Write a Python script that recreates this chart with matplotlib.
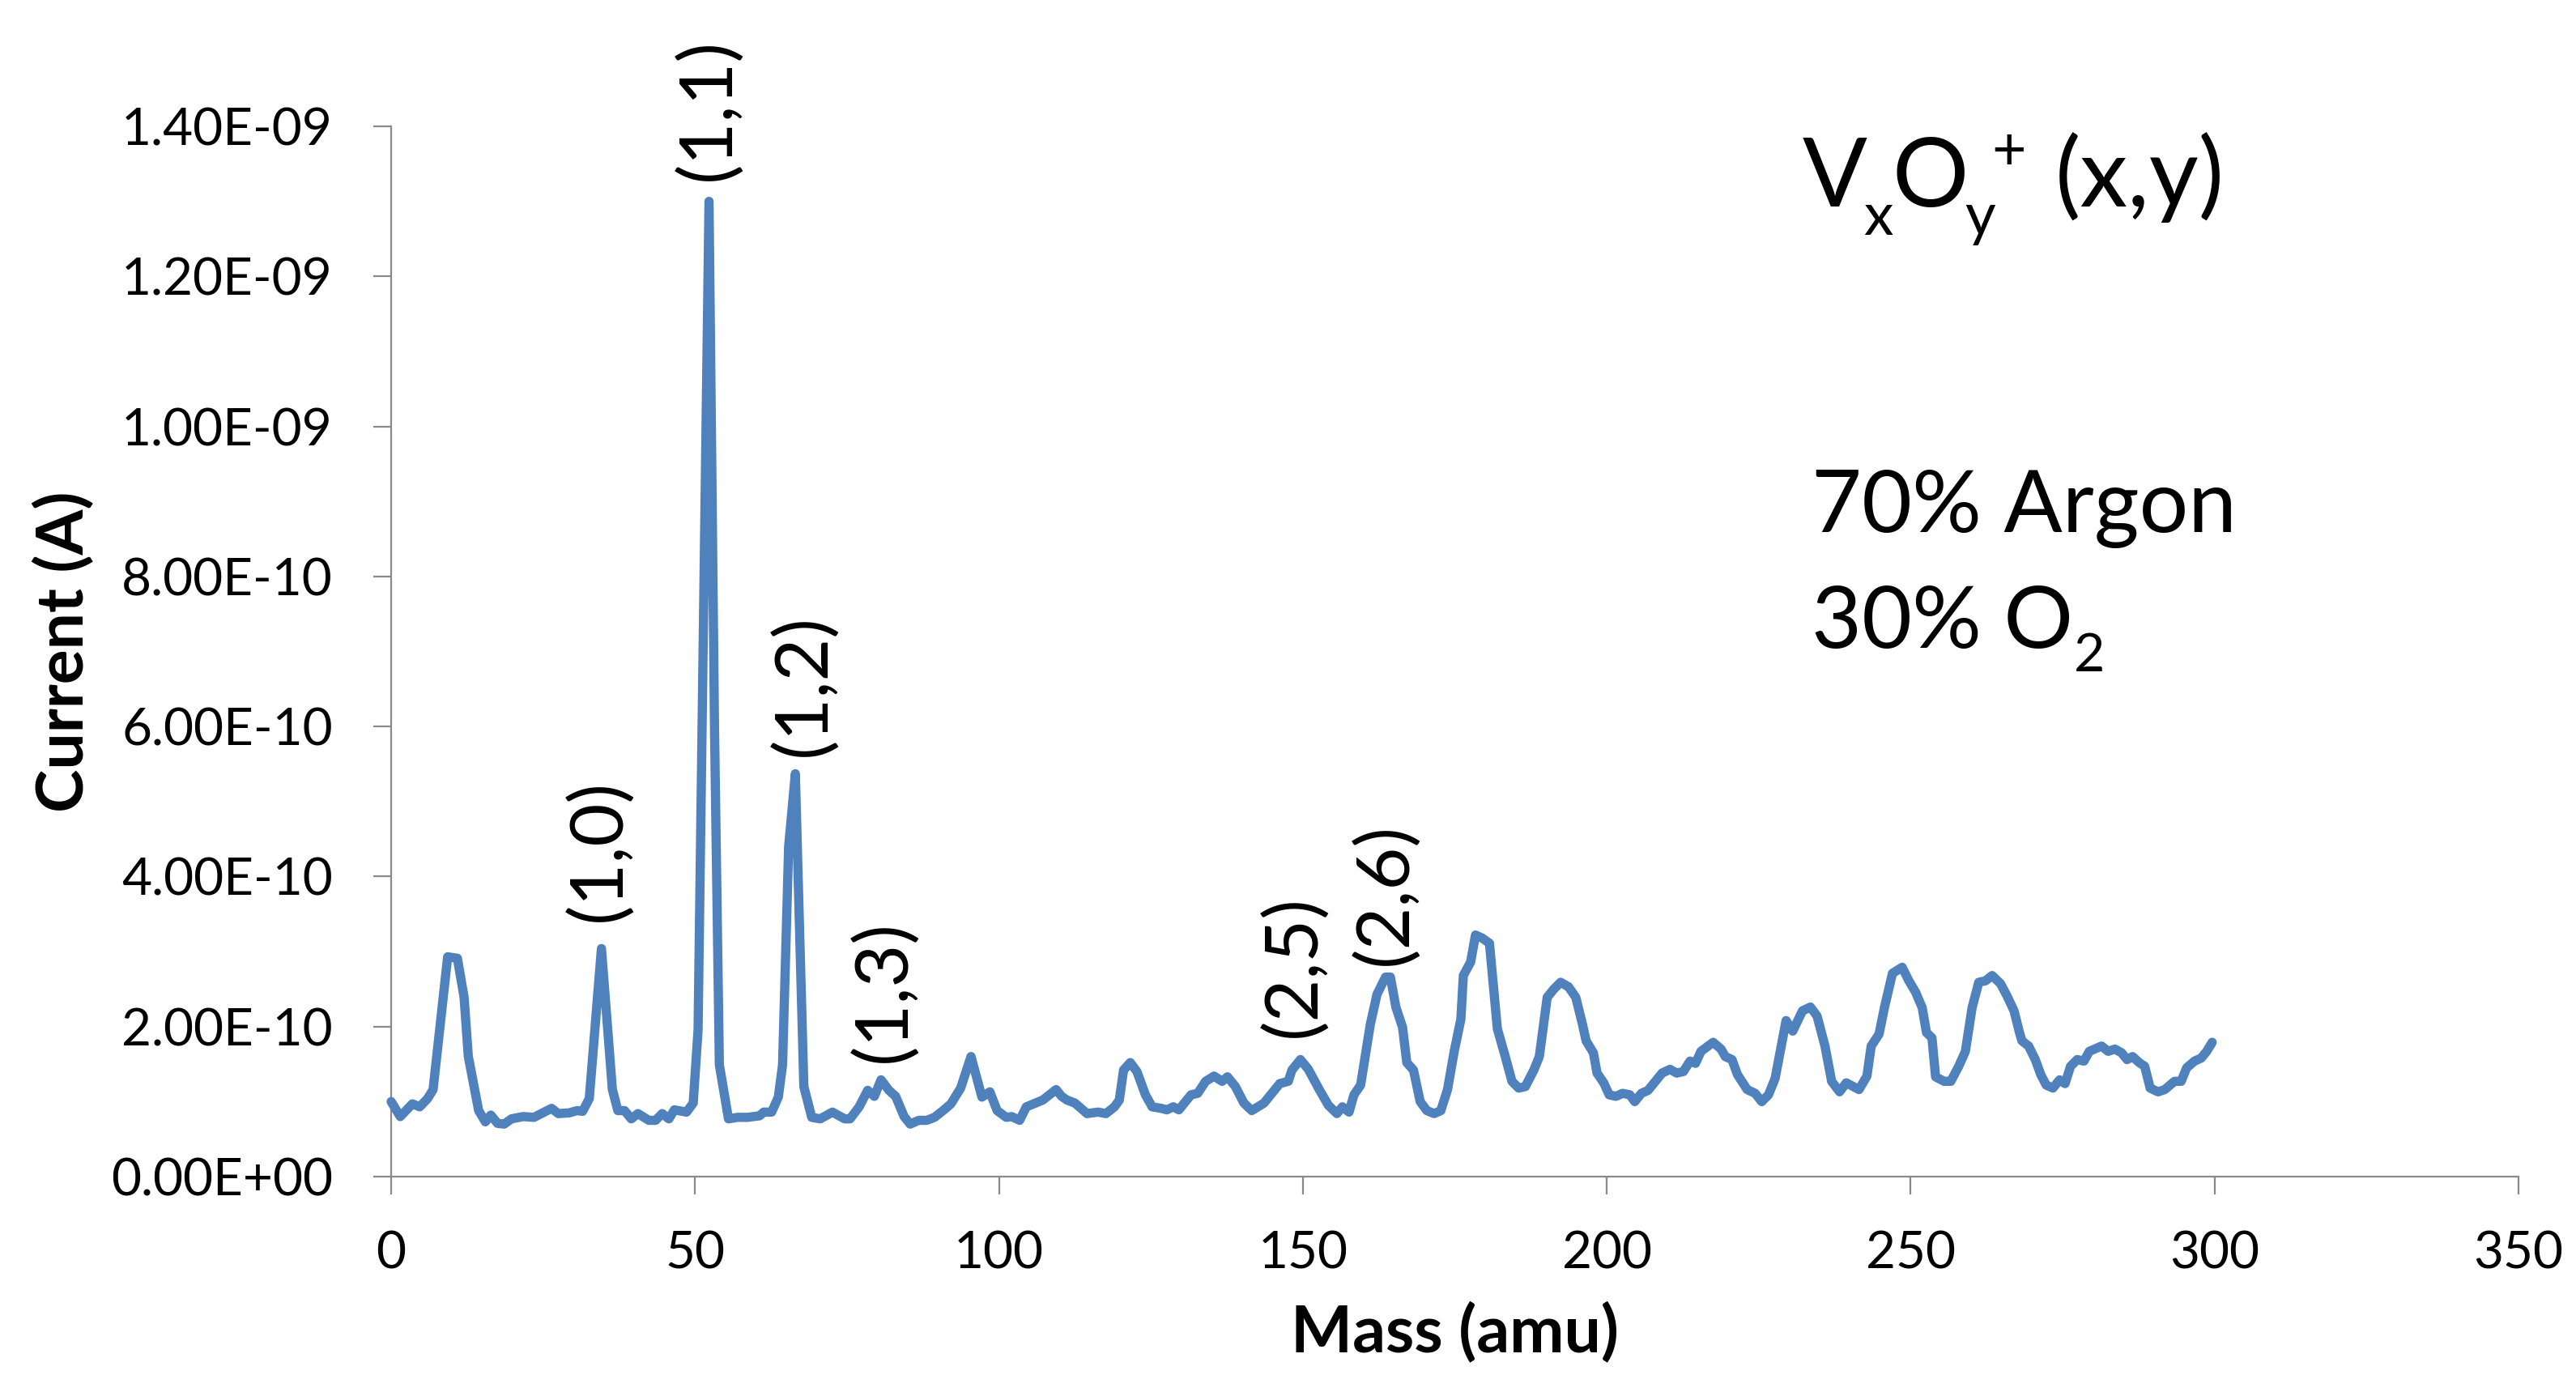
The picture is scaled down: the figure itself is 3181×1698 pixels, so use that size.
import matplotlib
matplotlib.use("Agg")
import matplotlib.pyplot as plt
import numpy as np

# ---------------- data ----------------
mass_amu = [
    0.0, 1.5, 3.5, 4.7, 6.0, 6.9, 9.3, 10.9, 12.0, 12.7, 14.4, 15.5, 16.4, 17.5, 18.6, 19.8,
    21.7, 23.5, 26.4, 27.5, 29.3, 30.6, 31.5, 32.6, 34.6, 36.4, 37.3, 38.4, 39.5, 40.6, 42.4,
    43.5, 44.6, 45.7, 46.6, 48.6, 49.7, 50.5, 52.3, 53.2, 54.0, 55.5, 57.0, 58.6, 60.6, 61.3,
    62.6, 63.7, 64.4, 65.4, 66.5, 67.9, 69.2, 70.6, 72.6, 74.6, 75.5, 77.0, 78.4, 79.5, 80.6,
    81.9, 83.0, 84.4, 85.4, 86.8, 88.1, 89.4, 90.8, 92.1, 93.7, 95.4, 97.2, 98.5, 99.7, 101.2,
    102.1, 103.4, 104.5, 106.0, 107.2, 109.4, 110.3, 111.2, 112.5, 114.5, 116.3, 117.6, 119.0,
    119.8, 120.5, 121.6, 122.7, 124.1, 125.2, 126.7, 127.6, 128.7, 129.6, 131.6, 132.7, 134.0,
    135.4, 136.7, 137.6, 138.9, 140.3, 141.6, 143.6, 144.9, 146.2, 147.6, 148.2, 149.6, 150.9,
    152.7, 154.2, 155.6, 156.5, 157.6, 158.4, 159.5, 161.1, 162.2, 163.6, 164.4, 165.3, 166.4,
    167.1, 168.2, 169.3, 170.4, 171.6, 172.7, 173.8, 174.9, 176.0, 176.4, 177.6, 178.4, 179.5,
    180.7, 182.0, 183.3, 184.4, 185.5, 186.6, 188.0, 188.9, 190.2, 191.3, 192.4, 193.7, 194.9,
    196.0, 196.6, 197.8, 198.4, 199.5, 200.4, 201.5, 202.6, 203.8, 204.6, 205.7, 206.8, 208.0,
    209.1, 210.4, 211.5, 212.6, 213.7, 214.6, 215.5, 217.5, 218.8, 219.5, 220.6, 221.5, 223.1,
    224.4, 225.5, 226.6, 227.7, 229.5, 230.6, 232.2, 233.5, 234.6, 235.9, 237.0, 238.3, 239.4,
    241.5, 242.8, 243.5, 244.8, 245.7, 247.0, 248.6, 249.7, 250.8, 251.9, 252.6, 253.5, 254.1,
    255.5, 256.6, 257.9, 259.0, 260.1, 261.2, 262.3, 263.4, 264.8, 265.9, 267.0, 267.9, 268.3,
    269.4, 270.5, 271.4, 272.3, 273.4, 274.5, 275.4, 276.3, 277.4, 278.5, 279.4, 281.4, 282.5,
    283.6, 284.7, 285.6, 286.5, 287.6, 288.5, 289.4, 290.7, 291.8, 293.4, 294.5, 295.4, 296.7,
    297.8, 298.7, 299.6,
]

# current in units of 1e-10 A
current_e10 = [
    1.00, 0.80, 0.97, 0.93, 1.04, 1.16, 2.93, 2.91, 2.39, 1.60, 0.88, 0.73, 0.82, 0.71, 0.70, 0.77,
    0.80, 0.79, 0.91, 0.84, 0.85, 0.88, 0.87, 1.04, 3.04, 1.16, 0.88, 0.88, 0.77, 0.84, 0.75,
    0.75, 0.84, 0.77, 0.89, 0.86, 0.98, 1.96, 13.0, 6.0, 1.49, 0.77, 0.79, 0.79, 0.81, 0.86,
    0.86, 1.06, 1.49, 4.4, 5.37, 1.20, 0.79, 0.77, 0.86, 0.77, 0.77, 0.93, 1.15, 1.07, 1.29,
    1.15, 1.07, 0.80, 0.70, 0.75, 0.75, 0.79, 0.88, 0.97, 1.18, 1.60, 1.06, 1.13, 0.88, 0.79,
    0.80, 0.75, 0.93, 0.98, 1.02, 1.16, 1.07, 1.02, 0.98, 0.84, 0.86, 0.84, 0.93,
    1.02, 1.42, 1.52, 1.40, 1.09, 0.93, 0.91, 0.89, 0.93, 0.89, 1.09, 1.11, 1.27,
    1.34, 1.27, 1.33, 1.20, 0.98, 0.88, 0.98, 1.11, 1.24, 1.27, 1.42, 1.56, 1.43,
    1.16, 0.95, 0.84, 0.93, 0.86, 1.09, 1.22, 2.03, 2.43, 2.66, 2.66, 2.26, 1.99,
    1.52, 1.42, 1.00, 0.88, 0.84, 0.88, 1.16, 1.67, 2.10, 2.68, 2.86, 3.22, 3.18,
    3.11, 1.97, 1.60, 1.27, 1.18, 1.20, 1.42, 1.60, 2.39, 2.50, 2.59, 2.53, 2.39,
    2.03, 1.81, 1.65, 1.38, 1.25, 1.09, 1.07, 1.11, 1.09, 1.00, 1.11, 1.15, 1.27,
    1.38, 1.43, 1.38, 1.40, 1.54, 1.51, 1.67, 1.79, 1.70, 1.60, 1.56, 1.36, 1.16,
    1.11, 1.00, 1.09, 1.31, 2.08, 1.94, 2.21, 2.26, 2.14, 1.74, 1.27, 1.13, 1.25,
    1.16, 1.34, 1.74, 1.90, 2.26, 2.71, 2.79, 2.61, 2.46, 2.25, 1.92, 1.85, 1.33,
    1.27, 1.27, 1.47, 1.67, 2.25, 2.59, 2.61, 2.68, 2.57, 2.40, 2.21, 1.92, 1.81,
    1.74, 1.56, 1.36, 1.22, 1.18, 1.29, 1.24, 1.47, 1.56, 1.54, 1.67, 1.74, 1.67,
    1.70, 1.65, 1.56, 1.60, 1.52, 1.47, 1.18, 1.13, 1.16, 1.27, 1.27, 1.45, 1.54,
    1.58, 1.67, 1.79,
]
UNIT = 1e-10  # A

peak_labels = ["(1,0)", "(1,1)", "(1,2)", "(1,3)", "(2,5)", "(2,6)"]
label_mass = [34.3, 52.3, 68.0, 81.2, 148.6, 163.7]
label_current_e10 = [3.40, 13.28, 5.60, 1.52, 1.86, 2.82]

x_ticks = [0, 50, 100, 150, 200, 250, 300, 350]
y_ticks_e10 = [0, 2, 4, 6, 8, 10, 12, 14]

# ---------------- style ----------------
plt.rcParams['font.family'] = ['Lato', 'DejaVu Sans']

W, H = 3181, 1698
fig = plt.figure(figsize=(W / 100, H / 100), dpi=100)
ax = fig.add_axes([483 / W, 1 - 1453 / H, (3110 - 483) / W, (1453 - 156) / H])

x = np.array(mass_amu)
y = np.array(current_e10) * UNIT
ax.plot(x, y, color='#4F81BD', lw=8.2, solid_joinstyle='round', solid_capstyle='round',
        clip_on=False, zorder=3)

ax.set_xlim(0, 350)
ax.set_ylim(0, 14 * UNIT)
ax.set_xticks(x_ticks)
ax.set_yticks([v * UNIT for v in y_ticks_e10])
ax.set_yticklabels(['{:.2E}'.format(v * UNIT) for v in y_ticks_e10])

for s in ['top', 'right']:
    ax.spines[s].set_visible(False)
for s in ['left', 'bottom']:
    ax.spines[s].set_color('#898989')
    ax.spines[s].set_linewidth(1.6)
ax.tick_params(axis='both', direction='out', length=16, width=1.6, color='#898989',
               labelsize=46, labelcolor='black')
ax.tick_params(axis='y', pad=36)
ax.tick_params(axis='x', pad=32)

ax.set_xlabel('Mass (amu)', fontsize=58, fontweight='bold', labelpad=22)
ax.set_ylabel('Current (A)', fontsize=58, fontweight='bold', labelpad=14)

for lab, xm, yc in zip(peak_labels, label_mass, label_current_e10):
    ax.text(xm, yc * UNIT, lab, rotation=90, ha='center', va='bottom', fontsize=66,
            color='black')

# ---- annotation text block (pieces chained left to right) ----
renderer = fig.canvas.get_renderer()


def chain(pieces, x0, base):
    xp = x0
    for txt, fs, dy, gap in pieces:
        xp += gap
        t = fig.text(xp / W, 1 - (base + dy) / H, txt, fontsize=fs, ha='left', va='baseline')
        bb = t.get_window_extent(renderer)
        xp = bb.x1


F1 = 85
chain([("V", F1, 0, 0),
       ("x", 0.62 * F1, 35, -5),
       ("O", F1, 0, -1),
       ("y", 0.62 * F1, 35, -4),
       ("+", 0.62 * F1, -46, -5),
       ("(x,y)", F1, 0, 36)], 2226, 255)

F2 = 77
chain([("70% Argon", F2, 0, 0)], 2237, 657)
chain([("30% O", F2, 0, 0),
       ("2", 0.62 * F2, 29, 1)], 2237, 800)

fig.savefig('out.png', dpi=100, facecolor='white')
